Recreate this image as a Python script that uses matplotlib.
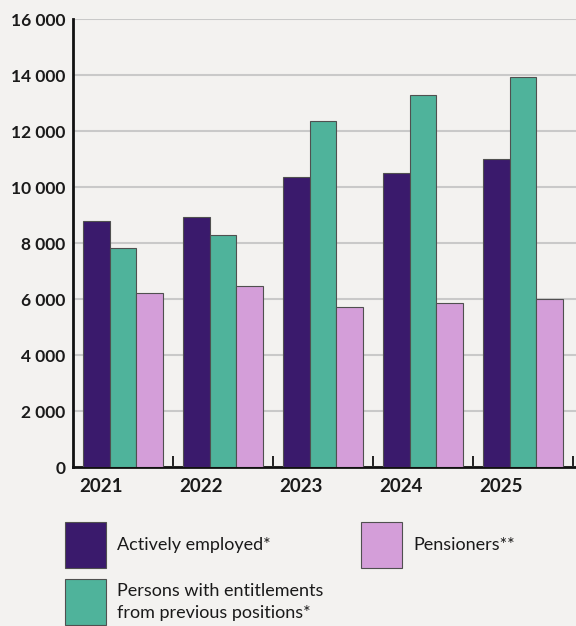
import matplotlib
matplotlib.use("Agg")
import matplotlib.pyplot as plt
from matplotlib.patches import Rectangle
import numpy as np

years = ["2021", "2022", "2023", "2024", "2025"]
actively_employed = [8790, 8930, 10360, 10490, 10990]
entitlements = [7820, 8300, 12360, 13300, 13930]
pensioners = [6200, 6475, 5725, 5870, 6010]
yticks = [0, 2000, 4000, 6000, 8000, 10000, 12000, 14000, 16000]
series_names = ["Actively employed*", "Persons with entitlements\nfrom previous positions*", "Pensioners**"]

c_dark = "#3a1a6c"
c_green = "#4fb39b"
c_pink = "#d49ed9"
bg = "#f3f2f0"
edge = "#505050"

plt.rcParams['font.family'] = ['Lato', 'DejaVu Sans']

fig = plt.figure(figsize=(5.76, 6.26), dpi=100, facecolor=bg)
ax = fig.add_axes([73/576, 1-467/626, 1-73/576, (467-19)/626])
ax.set_facecolor(bg)

n = len(years)
idx = np.arange(n)
w = 0.8/3
for k, (vals, col) in enumerate([(actively_employed, c_dark), (entitlements, c_green), (pensioners, c_pink)]):
    ax.bar(idx + 0.1 + w/2 + k*w, vals, width=w, color=col, edgecolor=edge, linewidth=0.8, zorder=3)

ax.set_xlim(0, 5.03)
ax.set_ylim(0, 16000)
ax.set_yticks(yticks)
ax.set_yticklabels([f"{v:,}".replace(",", " ") for v in yticks], fontsize=12.5, fontweight='bold', color='#1a1a1a')
ax.tick_params(axis='y', length=0, pad=5.5)
ax.yaxis.grid(True, color='#c9c9c9', linewidth=1.5, zorder=0)
ax.set_axisbelow(True)

ax.set_xticks(np.arange(1, n+1))
ax.set_xticklabels([])
ax.tick_params(axis='x', which='major', direction='in', length=8, width=1.3, color='#111')
ax.set_xticks(idx + 0.28, minor=True)
ax.set_xticklabels(years, minor=True, fontsize=13.5, fontweight='bold', color='#1a1a1a')
ax.tick_params(axis='x', which='minor', length=0, pad=8)

for s in ['top', 'right']:
    ax.spines[s].set_visible(False)
ax.spines['left'].set_linewidth(2)
ax.spines['bottom'].set_linewidth(2)
ax.spines['left'].set_color('#111')
ax.spines['bottom'].set_color('#111')

W, H = 576, 626
def fx(x): return x / W
def fy(y): return 1 - y / H

legend_items = [
    (65, 522, c_dark, series_names[0], 545),
    (65, 579, c_green, series_names[1], 602),
    (361, 522, c_pink, series_names[2], 545),
]
for x0, y0, col, label, ty in legend_items:
    fig.patches.append(Rectangle((fx(x0), fy(y0+46)), 41/W, 46/H, transform=fig.transFigure,
                                 facecolor=col, edgecolor=edge, linewidth=0.8))
    fig.text(fx(x0+52), fy(ty), label, fontsize=13, va='center', ha='left', color='#1a1a1a', linespacing=1.5)

fig.savefig("out.png", dpi=100, facecolor=bg)
